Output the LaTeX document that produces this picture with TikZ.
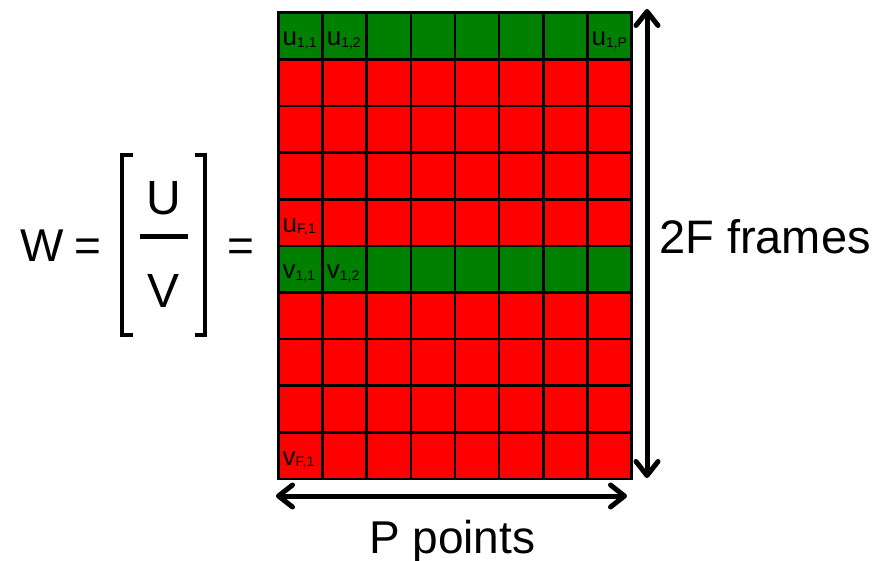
\documentclass[tikz,border=0pt]{standalone}
\usepackage{fontspec}
\setmainfont{Liberation Sans}
\usetikzlibrary{arrows.meta}
\definecolor{cgreen}{RGB}{0,128,0}
\definecolor{cred}{RGB}{255,0,0}
\newcommand\sublab[2]{#1\raisebox{-1.5pt}{\fontsize{14}{14}\selectfont #2}}
\begin{document}
\begin{tikzpicture}[x=1pt,y=-1pt,
  gridline/.style={line width=2.6pt,black},
  dimarrow/.style={line width=5pt,{Straight Barb[length=14pt,width=22pt,round]}-{Straight Barb[length=14pt,width=22pt,round]}},
  bigtext/.style={inner sep=0pt,anchor=base,font=\fontsize{46}{46}\selectfont},
  celllabel/.style={inner sep=0pt,anchor=base west,font=\fontsize{26}{26}\selectfont},
  bracket/.style={line width=4pt}]
\useasboundingbox (0,0) rectangle (879,561);
\def\xa{278.5}\def\cw{44.125}\def\ya{12.7}\def\rh{46.63}
% cells
\foreach \r in {0,...,9}{
  \ifnum\r=0 \def\col{cgreen}\else\ifnum\r=5 \def\col{cgreen}\else\def\col{cred}\fi\fi
  \fill[\col] (\xa,\ya+\r*\rh) rectangle (\xa+8*\cw,\ya+\r*\rh+\rh);
}
\foreach \c in {1,...,7} \draw[gridline] (\xa+\c*\cw,\ya) -- (\xa+\c*\cw,\ya+10*\rh);
\foreach \r in {1,...,9} \draw[gridline] (\xa,\ya+\r*\rh) -- (\xa+8*\cw,\ya+\r*\rh);
\draw[gridline] (\xa,\ya) rectangle (\xa+8*\cw,\ya+10*\rh);
% cell labels
\node[celllabel] (u11) at (\xa+0*\cw+4,\ya+1*\rh-13.5) {\sublab{u}{1,1}};
\node[celllabel] (u12) at (\xa+1*\cw+4,\ya+1*\rh-13.5) {\sublab{u}{1,2}};
\node[celllabel] (u1P) at (\xa+7*\cw+4,\ya+1*\rh-13.5) {\sublab{u}{1,P}};
\node[celllabel] (uF1) at (\xa+0*\cw+4,\ya+5*\rh-13.5) {\sublab{u}{F,1}};
\node[celllabel] (v11) at (\xa+0*\cw+4,\ya+6*\rh-13.5) {\sublab{v}{1,1}};
\node[celllabel] (v12) at (\xa+1*\cw+4,\ya+6*\rh-13.5) {\sublab{v}{1,2}};
\node[celllabel] (vF1) at (\xa+0*\cw+4,\ya+10*\rh-13.5) {\sublab{v}{F,1}};
% dimension arrows
\coordinate (vtop) at (647,9);
\coordinate (vbot) at (647,478);
\draw[dimarrow] (vtop) -- (vbot);
\coordinate (hleft) at (276,496);
\coordinate (hright) at (627,496);
\draw[dimarrow] (hleft) -- (hright);
\node[inner sep=0pt,anchor=base west,font=\fontsize{47}{47}\selectfont] (frames) at (659,254) {2F frames};
\node[inner sep=0pt,anchor=base west,font=\fontsize{46}{46}\selectfont] (points) at (369,553) {P points};
% left equation
\node[bigtext] (W) at (42.5,262) {W};
\node[bigtext] (eq1) at (87.5,262) {=};
\node[bigtext,font=\fontsize{48}{48}\selectfont] (U) at (164,215) {U};
\node[bigtext,font=\fontsize{48}{48}\selectfont] (V) at (164,308) {V};
\node[bigtext] (eq2) at (240.5,262) {=};
\draw[line width=5pt] (140,237) -- (188,237);
\draw[bracket] (133,155) -- (122,155) -- (122,335) -- (133,335);
\draw[bracket] (195,155) -- (205,155) -- (205,335) -- (195,335);
\end{tikzpicture}
\end{document}
